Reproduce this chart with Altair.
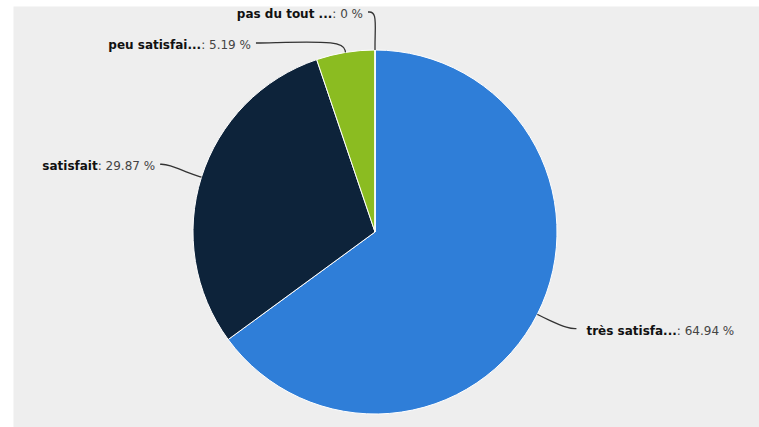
import math
import altair as alt
import pandas as pd

# ---- data ----
categories = ["très satisfa...", "satisfait", "peu satisfai...", "pas du tout ..."]
percentages = [64.94, 29.87, 5.19, 0.0]
colors = ["#2f7ed8", "#0d233a", "#8bbc21", "#910000"]

# ---- layout ----
W, H = 759, 427
PAD_L, PAD_T = 13, 6
VW, VH = W - PAD_L, H - PAD_T
CX, CY = 375 - PAD_L, 232 - PAD_T
R = 182
LABEL_R = 218
GAP = 31
FS = 12

# approximate DejaVu Sans advance widths (units of 1/2048 em)
BOLD_W = {" ": 713, ".": 780, "a": 1382, "d": 1466, "e": 1389, "è": 1389, "f": 891,
          "i": 702, "o": 1407, "p": 1466, "r": 1010, "s": 1219, "t": 979, "u": 1458}
NORM_W = {" ": 651, ":": 690, ".": 651, "%": 1946}
for ch in "0123456789":
    NORM_W[ch] = 1303


def text_w(s, table, default):
    return sum(table.get(c, default) for c in s) * FS / 2048.0


def fmt(v):
    s = f"{v:.2f}".rstrip("0").rstrip(".")
    return f": {s} %"


total = sum(percentages)
rows = []
cum = 0.0
for i, (c, v) in enumerate(zip(categories, percentages)):
    a = 2 * math.pi * (cum + v / 2) / total
    cum += v
    rows.append({"idx": i, "cat": c, "value": v, "a": a,
                 "side": -1 if a > math.pi else 1,
                 "ny": CY - LABEL_R * math.cos(a)})

# simple overlap resolution per side
for side in (-1, 1):
    sub = sorted([r for r in rows if r["side"] == side], key=lambda r: r["ny"])
    prev = -1e9
    for r in sub:
        r["y"] = max(r["ny"], prev + GAP)
        prev = r["y"]

conn = []
for r in rows:
    a, s, y = r["a"], r["side"], r["y"]
    xc = CX + s * (math.sqrt(max(LABEL_R ** 2 - (y - CY) ** 2, 0)) + 7)
    ux, uy = math.sin(a), -math.cos(a)
    pts = [(CX + R * ux, CY + R * uy), (CX + (R + 12) * ux, CY + (R + 12) * uy),
           (xc - s * 8, y - 2), (xc, y - 2)]
    for k, (px, py) in enumerate(pts):
        conn.append({"cat": r["cat"], "k": k, "px": px, "py": py})
    val = fmt(r["value"])
    wn = text_w(r["cat"], BOLD_W, 1300)
    wv = text_w(val, NORM_W, 1300)
    x0 = xc + 10 if s > 0 else xc - 5 - wn - wv
    r["tx"] = x0
    r["tx2"] = x0 + wn
    r["val"] = val

df = pd.DataFrame(rows)
cdf = pd.DataFrame(conn)

pie = alt.Chart(df).mark_arc(outerRadius=R, stroke="white", strokeWidth=1).encode(
    theta=alt.Theta("value:Q", stack=True),
    color=alt.Color("cat:N", scale=alt.Scale(domain=categories, range=colors), legend=None),
    order=alt.Order("idx:Q"),
    x=alt.value(CX),
    y=alt.value(CY),
)

lines = alt.Chart(cdf).mark_line(interpolate="basis", color="#333333", strokeWidth=1.3).encode(
    x=alt.X("px:Q", scale=None, axis=None),
    y=alt.Y("py:Q", scale=None, axis=None),
    detail="cat:N",
    order="k:Q",
)

names = alt.Chart(df).mark_text(align="left", baseline="middle", font="DejaVu Sans",
                                fontSize=FS, fontWeight="bold", color="#111111").encode(
    x=alt.X("tx:Q", scale=None, axis=None),
    y=alt.Y("y:Q", scale=None, axis=None),
    text="cat:N",
)

vals = alt.Chart(df).mark_text(align="left", baseline="middle", font="DejaVu Sans",
                               fontSize=FS, color="#444444").encode(
    x=alt.X("tx2:Q", scale=None, axis=None),
    y=alt.Y("y:Q", scale=None, axis=None),
    text="val:N",
)

chart = alt.layer(pie, lines, names, vals).properties(
    width=VW, height=VH,
    padding={"left": PAD_L, "top": PAD_T, "right": 0, "bottom": 0},
    autosize=alt.AutoSizeParams(type="none"),
    background="white",
).configure_view(fill="#eeeeee", stroke="transparent")

chart.save("out.html", embed_options={"renderer": "svg", "actions": False})
